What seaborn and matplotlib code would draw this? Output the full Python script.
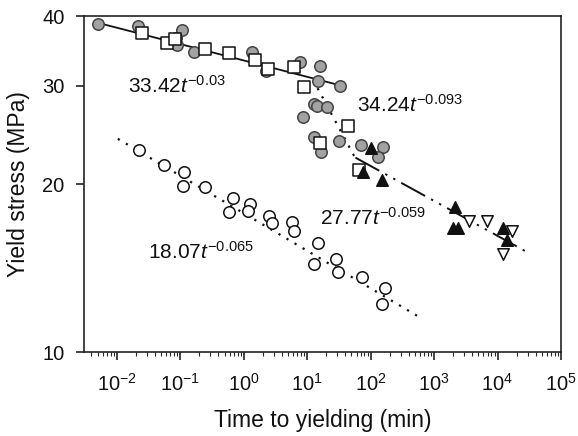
import matplotlib
matplotlib.use("Agg")
import matplotlib.pyplot as plt
import matplotlib.ticker as mticker
import seaborn as sns
import pandas as pd

# ---- data ----
grey_t = [0.00506, 0.0215, 0.106, 0.085, 0.0885, 0.164, 1.34, 2.22, 7.6, 15.7,
          14.6, 33.5, 12.6, 14.1, 20.2, 8.5, 12.6, 16.8, 32.3, 71.6, 159, 133]
grey_y = [38.7, 38.4, 37.8, 36.5, 35.5, 34.5, 34.5, 31.9, 33.1, 32.5,
          30.6, 30.0, 27.8, 27.6, 27.5, 26.4, 24.3, 22.8, 23.9, 23.5, 23.3, 22.4]

sq_t = [0.0249, 0.0616, 0.082, 0.244, 0.58, 1.49, 2.38, 6.1, 8.8, 44.8, 15.7, 66.7]
sq_y = [37.3, 35.8, 36.4, 34.9, 34.3, 33.4, 32.2, 32.4, 29.9, 25.4, 23.7, 21.2]

oc_t = [0.0223, 0.0552, 0.114, 0.11, 0.244, 0.671, 0.58, 1.24, 1.16, 2.47,
        2.76, 5.69, 6.1, 15.1, 12.6, 28, 30.1, 74.3, 171, 153]
oc_y = [23.0, 21.6, 21.0, 19.8, 19.75, 18.9, 17.8, 18.4, 17.9, 17.5,
        17.0, 17.1, 16.5, 15.7, 14.4, 14.7, 13.9, 13.6, 13.0, 12.2]

tu_t = [103, 77, 153, 2150, 2000, 2400, 12200, 14200]
tu_y = [23.2, 21.0, 20.3, 18.2, 16.7, 16.7, 16.7, 15.9]

td_t = [3580, 6860, 17000, 12200]
td_y = [17.2, 17.2, 16.5, 15.0]

# fit-line end points
fit_solid_t = [0.005, 35]
fit_solid_y = [38.9, 30.0]
fit_dot1_t = [14.6, 62]
fit_dot1_y = [29.7, 21.9]
fit_dashdot_t = [57.7, 29200]
fit_dashdot_y = [22.3, 15.1]
fit_dot2_t = [0.0104, 550]
fit_dot2_y = [24.1, 11.6]

labels = [r"33.42$t^{-0.03}$", r"34.24$t^{-0.093}$", r"27.77$t^{-0.059}$", r"18.07$t^{-0.065}$"]
label_pos = [(0.015, 29.1), (60, 26.9), (15.7, 16.9), (0.031, 14.7)]

x_major = [1e-2, 1e-1, 1e0, 1e1, 1e2, 1e3, 1e4, 1e5]
y_major = [10, 20, 30, 40]

sns.set_style("ticks")
plt.rcParams["font.family"] = ["Liberation Sans", "DejaVu Sans"]
plt.rcParams["mathtext.fontset"] = "custom"
plt.rcParams["mathtext.rm"] = "Liberation Sans"
plt.rcParams["mathtext.it"] = "Liberation Sans:italic"
plt.rcParams["mathtext.bf"] = "Liberation Sans:bold"

fig = plt.figure(figsize=(5.78, 4.36), dpi=100)
ax = fig.add_axes([84 / 578, 1 - 352 / 436, (561 - 84) / 578, (352 - 16) / 436])

line_specs = [
    (fit_solid_t, fit_solid_y, "-", 1.3),
    (fit_dot1_t, fit_dot1_y, (0, (1, 3.2)), 1.6),
    (fit_dashdot_t, fit_dashdot_y, (0, (14, 3.5, 1.2, 3.5, 1.2, 3.5)), 1.4),
    (fit_dot2_t, fit_dot2_y, (0, (1, 3.2)), 1.6),
]
for t, y, ls, lw in line_specs:
    df = pd.DataFrame({"t": t, "y": y})
    sns.lineplot(data=df, x="t", y="y", ax=ax, color="#111111", lw=lw,
                 linestyle=ls, zorder=2, estimator=None, sort=False)

ms = 68
series = [
    (grey_t, grey_y, "o", "#a2a2a2", "#444444", ms),
    (sq_t, sq_y, "s", "white", "#111111", ms * 0.95),
    (oc_t, oc_y, "o", "white", "#111111", ms),
    (tu_t, tu_y, "^", "#111111", "#111111", ms),
    (td_t, td_y, "v", "white", "#111111", ms),
]
for t, y, m, fc, ec, s in series:
    df = pd.DataFrame({"t": t, "y": y})
    sns.scatterplot(data=df, x="t", y="y", ax=ax, marker=m, s=s,
                    facecolor=fc, edgecolor=ec, linewidth=1.1, zorder=3)

for txt, (x, y) in zip(labels, label_pos):
    ax.text(x, y, txt, fontsize=15, color="#111111", zorder=4)

ax.set_xscale("log")
ax.set_yscale("log")
ax.set_xlim(3.05e-3, 1e5)
ax.set_ylim(10, 40)
ax.xaxis.set_major_locator(mticker.FixedLocator(x_major))
ax.xaxis.set_major_formatter(mticker.LogFormatterSciNotation())
ax.xaxis.set_minor_locator(mticker.LogLocator(base=10, subs=range(2, 10), numticks=100))
ax.xaxis.set_minor_formatter(mticker.NullFormatter())
ax.yaxis.set_major_locator(mticker.FixedLocator(y_major))
ax.yaxis.set_major_formatter(mticker.FixedFormatter([str(v) for v in y_major]))
ax.yaxis.set_minor_locator(mticker.NullLocator())

ax.tick_params(axis="both", which="major", labelsize=14.5, length=6, width=1.1,
               direction="out", colors="#111111")
ax.tick_params(axis="x", which="major", pad=9)
ax.tick_params(axis="y", which="major", pad=8)
ax.tick_params(axis="x", which="minor", length=3, width=0.8, direction="out")
for sp in ax.spines.values():
    sp.set_visible(True)
    sp.set_linewidth(1.2)
    sp.set_color("#222222")

ax.set_xlabel("Time to yielding (min)", fontsize=16.5, labelpad=10, color="#111111")
ax.set_ylabel("Yield stress (MPa)", fontsize=16.5, labelpad=9, color="#111111")

fig.savefig("out.png", dpi=100)
